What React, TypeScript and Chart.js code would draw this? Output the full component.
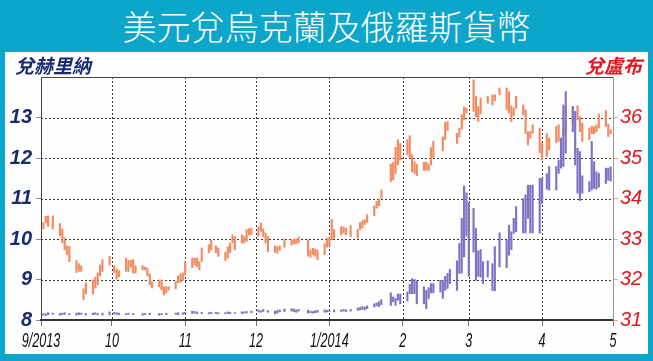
import React, { useEffect, useRef } from "react";
import { Chart, registerables } from "chart.js";
Chart.register(...registerables);

const TITLE = "美元兌烏克蘭及俄羅斯貨幣";
const LEFT_TITLE = "兌赫里納";
const RIGHT_TITLE = "兌盧布";

// x axis: days since 1 Sep 2013
const monthDays = [0, 30, 61, 91, 122, 153, 181, 212, 242];
const monthLabels = ["9/2013", "10", "11", "12", "1/2014", "2", "3", "4", "5"];
const uahTicks = [8, 9, 10, 11, 12, 13];
const rubTicks = [31, 32, 33, 34, 35, 36];

// [day, low, high] – rubles per dollar (right axis)
const rubleBars: number[][] = [
  [1, 33.25, 33.4], [2, 33.4, 33.56], [3, 33.31, 33.57], [5, 33.25, 33.57], [8, 33.08, 33.38],
  [9, 32.91, 33.25], [10, 32.73, 33.03], [11, 32.61, 32.83], [12, 32.44, 32.81], [15, 32.17, 32.47],
  [16, 32.2, 32.39], [17, 32.2, 32.34], [18, 31.5, 31.77], [19, 31.64, 31.92], [22, 31.64, 31.99],
  [23, 31.79, 32.06], [24, 31.87, 32.16], [25, 32.09, 32.36], [26, 32.2, 32.49], [29, 32.36, 32.57],
  [31, 32.17, 32.34], [32, 32.01, 32.26], [33, 32.07, 32.22], [36, 32.2, 32.53], [37, 32.2, 32.47],
  [38, 32.3, 32.47], [39, 32.16, 32.49], [40, 32.16, 32.34], [43, 32.24, 32.34], [44, 32.24, 32.31],
  [45, 32.09, 32.28], [46, 31.87, 32.14], [47, 31.79, 31.95], [50, 31.82, 31.99], [51, 31.74, 31.99],
  [52, 31.62, 31.82], [53, 31.67, 31.82], [54, 31.74, 31.82], [57, 31.77, 31.95], [58, 31.92, 32.09],
  [59, 31.93, 32.14], [60, 31.99, 32.16], [61, 32.11, 32.44], [64, 32.29, 32.53], [65, 32.36, 32.53],
  [66, 32.32, 32.53], [67, 32.24, 32.44], [68, 32.44, 32.78], [71, 32.66, 32.86], [72, 32.73, 32.98],
  [74, 32.66, 32.83], [75, 32.57, 32.78], [78, 32.47, 32.67], [79, 32.53, 32.81], [80, 32.66, 32.9],
  [81, 32.9, 33.1], [82, 32.73, 33.06], [85, 32.9, 33.1], [86, 32.9, 33.06], [87, 32.94, 33.23],
  [88, 33.1, 33.25], [89, 33.1, 33.27], [92, 33.06, 33.3], [93, 33.19, 33.4], [94, 33.06, 33.25],
  [95, 32.9, 33.15], [96, 32.69, 33.06], [99, 32.67, 32.83], [100, 32.65, 32.81], [101, 32.72, 32.83],
  [103, 32.8, 33.0], [106, 32.85, 32.98], [107, 32.88, 33.0], [108, 32.88, 33.0], [109, 32.91, 33.05],
  [113, 32.58, 32.98], [114, 32.55, 32.73], [115, 32.61, 32.77], [116, 32.57, 32.75], [117, 32.49, 32.73],
  [120, 32.61, 32.88], [121, 32.8, 33.02], [122, 32.85, 33.05], [123, 32.98, 33.48], [124, 33.02, 33.23],
  [127, 33.1, 33.31], [128, 33.15, 33.3], [129, 33.1, 33.27], [131, 33.06, 33.33], [134, 33.02, 33.23],
  [135, 33.23, 33.41], [136, 33.27, 33.46], [137, 33.36, 33.48], [138, 33.41, 33.6], [141, 33.57, 33.82],
  [142, 33.76, 33.93], [143, 33.82, 33.99], [144, 34.01, 34.21], [148, 34.42, 34.85], [149, 34.46, 34.89],
  [150, 34.62, 35.26], [151, 34.83, 35.45], [152, 34.95, 35.36], [155, 35.08, 35.45], [156, 35.0, 35.55],
  [157, 34.66, 35.08], [158, 34.62, 34.91], [159, 34.56, 34.85], [162, 34.69, 34.89], [163, 34.7, 34.9],
  [164, 34.69, 34.85], [165, 34.83, 35.26], [166, 35.0, 35.41], [170, 35.18, 35.52], [171, 35.46, 35.88],
  [172, 35.68, 35.9], [176, 35.36, 35.61], [177, 35.52, 35.74], [178, 35.71, 36.07], [179, 35.94, 36.26],
  [180, 36.11, 36.23], [183, 36.15, 36.93], [184, 36.02, 36.52], [185, 35.9, 36.27], [186, 36.09, 36.48],
  [189, 36.35, 36.52], [191, 36.31, 36.56], [192, 36.41, 36.56], [194, 36.56, 36.73], [197, 36.19, 36.73],
  [198, 36.11, 36.64], [199, 35.9, 36.29], [200, 36.04, 36.23], [201, 36.23, 36.52], [204, 36.07, 36.31],
  [205, 35.6, 36.19], [206, 35.32, 35.65], [207, 35.49, 35.65], [208, 35.61, 35.82], [211, 35.13, 35.74],
  [212, 34.95, 35.36], [214, 35.03, 35.6], [215, 35.2, 35.49], [218, 35.38, 35.78], [219, 35.41, 35.82],
  [221, 35.55, 35.74], [222, 35.65, 36.27], [225, 35.9, 36.27], [227, 35.94, 36.29], [228, 35.65, 36.02],
  [229, 35.41, 35.86], [232, 35.45, 35.74], [233, 35.6, 35.78], [234, 35.6, 35.78], [235, 35.65, 35.82],
  [236, 35.74, 36.09], [239, 35.78, 36.17], [240, 35.53, 35.84], [241, 35.6, 35.7],
];

// [day, low, high] – hryvnia per dollar (left axis)
const hryvniaBars: number[][] = [
  [1, 8.12, 8.16], [2, 8.11, 8.15], [3, 8.13, 8.18], [5, 8.14, 8.17], [8, 8.12, 8.16],
  [9, 8.13, 8.17], [10, 8.14, 8.18], [12, 8.13, 8.16], [15, 8.12, 8.17], [16, 8.13, 8.18],
  [17, 8.14, 8.17], [19, 8.12, 8.16], [22, 8.13, 8.17], [23, 8.14, 8.18], [24, 8.13, 8.16],
  [26, 8.12, 8.17], [29, 8.13, 8.2], [31, 8.15, 8.19], [32, 8.14, 8.18], [33, 8.13, 8.17],
  [36, 8.13, 8.16], [37, 8.14, 8.17], [39, 8.13, 8.16], [43, 8.12, 8.16], [44, 8.13, 8.16],
  [46, 8.13, 8.17], [50, 8.12, 8.16], [51, 8.13, 8.16], [53, 8.13, 8.17], [57, 8.14, 8.17],
  [58, 8.13, 8.18], [60, 8.14, 8.18], [61, 8.15, 8.19], [64, 8.16, 8.22], [65, 8.17, 8.21],
  [66, 8.16, 8.2], [68, 8.16, 8.19], [71, 8.15, 8.18], [72, 8.16, 8.19], [74, 8.16, 8.19],
  [75, 8.15, 8.18], [78, 8.15, 8.18], [79, 8.16, 8.2], [80, 8.16, 8.19], [82, 8.16, 8.18],
  [85, 8.16, 8.2], [86, 8.17, 8.2], [87, 8.17, 8.21], [89, 8.18, 8.22], [92, 8.2, 8.25],
  [93, 8.19, 8.23], [94, 8.21, 8.26], [96, 8.19, 8.23], [99, 8.15, 8.22], [100, 8.17, 8.24],
  [101, 8.2, 8.25], [103, 8.21, 8.27], [106, 8.22, 8.28], [107, 8.21, 8.27], [108, 8.19, 8.25],
  [109, 8.22, 8.26], [113, 8.17, 8.24], [114, 8.18, 8.22], [115, 8.17, 8.21], [116, 8.18, 8.23],
  [117, 8.19, 8.24], [120, 8.19, 8.25], [121, 8.2, 8.24], [122, 8.21, 8.25], [124, 8.2, 8.25],
  [127, 8.21, 8.25], [128, 8.22, 8.26], [129, 8.21, 8.25], [131, 8.22, 8.26], [134, 8.24, 8.3],
  [135, 8.25, 8.31], [136, 8.26, 8.33], [137, 8.25, 8.32], [138, 8.28, 8.35], [141, 8.32, 8.4],
  [142, 8.35, 8.42], [143, 8.33, 8.45], [144, 8.38, 8.5], [148, 8.36, 8.67], [149, 8.45, 8.57],
  [150, 8.36, 8.53], [151, 8.49, 8.64], [152, 8.4, 8.64], [155, 8.47, 8.69], [156, 8.65, 8.88],
  [157, 8.65, 9.02], [158, 8.65, 9.0], [159, 8.4, 8.98], [162, 8.4, 8.82], [163, 8.28, 8.73],
  [164, 8.53, 8.8], [165, 8.67, 8.9], [166, 8.67, 8.9], [169, 8.69, 8.98], [170, 8.53, 8.98],
  [171, 8.73, 9.08], [172, 8.78, 9.15], [173, 8.9, 9.25], [176, 8.73, 9.46], [177, 9.15, 9.89],
  [178, 9.16, 10.51], [179, 9.56, 11.31], [180, 10.07, 11.14], [181, 9.08, 10.9], [183, 9.68, 10.76],
  [184, 8.98, 10.26], [185, 9.08, 9.71], [186, 9.06, 9.74], [187, 8.9, 9.44], [189, 9.06, 9.46],
  [191, 8.73, 9.39], [192, 8.72, 9.81], [194, 9.31, 10.15], [197, 9.29, 9.97], [198, 9.6, 10.34],
  [199, 9.74, 10.18], [200, 10.14, 10.51], [201, 10.18, 10.8], [204, 10.15, 11.0], [205, 10.15, 11.09],
  [206, 10.51, 11.33], [207, 10.15, 11.33], [208, 10.15, 11.33], [211, 10.14, 11.5], [212, 10.88, 11.5],
  [214, 11.23, 11.61], [215, 11.21, 11.79], [218, 11.21, 11.79], [219, 11.62, 11.95], [220, 11.75, 12.49],
  [221, 11.79, 13.31], [222, 12.12, 13.64], [225, 12.65, 13.27], [226, 11.83, 13.15], [227, 11.13, 12.24],
  [228, 10.95, 12.16], [229, 11.13, 11.56], [232, 11.17, 11.42], [233, 11.21, 12.41], [234, 11.25, 11.91],
  [235, 11.23, 11.66], [236, 11.28, 11.62], [239, 11.37, 11.75], [240, 11.45, 11.75], [241, 11.43, 11.78],
];

const TEAL = "#0ba6c9";
const NAVY = "#1a2b6d";
const RED = "#e3161d";
const ORANGE = "#f28b62";
const PURPLE = "#7f73c4";
const GRID = "#3a3a3a";

const gridPlugin = {
  id: "dottedGrid",
  beforeDatasetsDraw(chart: any) {
    const { ctx, chartArea: a, scales } = chart;
    ctx.save();
    ctx.strokeStyle = GRID;
    ctx.lineWidth = 1;
    ctx.setLineDash([2, 2]);
    monthDays.slice(1, -1).forEach((d) => {
      const x = Math.round(scales.x.getPixelForValue(d)) + 0.5;
      ctx.beginPath();
      ctx.moveTo(x, a.top);
      ctx.lineTo(x, a.bottom);
      ctx.stroke();
    });
    uahTicks.slice(1).forEach((v) => {
      const y = Math.round(scales.y.getPixelForValue(v)) + 0.5;
      ctx.beginPath();
      ctx.moveTo(a.left, y);
      ctx.lineTo(a.right, y);
      ctx.stroke();
    });
    ctx.restore();
  },
  afterDraw(chart: any) {
    const { ctx, chartArea: a, scales } = chart;
    ctx.save();
    // top frame line
    ctx.strokeStyle = "#444";
    ctx.lineWidth = 1;
    ctx.beginPath();
    ctx.moveTo(a.left, a.top + 0.5);
    ctx.lineTo(a.right, a.top + 0.5);
    ctx.stroke();
    // condensed italic month labels
    ctx.fillStyle = "#111";
    ctx.font = 'italic 20px "Liberation Sans", Arial, sans-serif';
    ctx.textAlign = "center";
    ctx.textBaseline = "alphabetic";
    monthDays.forEach((d, i) => {
      const x = scales.x.getPixelForValue(d);
      ctx.save();
      ctx.translate(x, a.bottom + 27);
      ctx.scale(0.63, 1);
      ctx.fillText(monthLabels[i], 0, 0);
      ctx.restore();
    });
    ctx.restore();
  },
};

export default function App() {
  const ref = useRef<HTMLCanvasElement | null>(null);

  useEffect(() => {
    document.body.style.margin = "0";
    const canvas = ref.current;
    if (!canvas) return;
    const chart = new Chart(canvas, {
      type: "bar",
      data: {
        datasets: [
          {
            label: "UAH",
            data: hryvniaBars.map((b) => ({ x: b[0], y: [b[1], b[2]] })) as any,
            backgroundColor: PURPLE,
            borderWidth: 0,
            barThickness: 1.5,
            grouped: false,
            yAxisID: "y",
          },
          {
            label: "RUB",
            data: rubleBars.map((b) => ({ x: b[0], y: [b[1], b[2]] })) as any,
            backgroundColor: ORANGE,
            borderWidth: 0,
            barThickness: 1.5,
            grouped: false,
            yAxisID: "y1",
          },
        ],
      },
      options: {
        animation: false,
        responsive: false,
        layout: { padding: { top: 25, left: 0, right: 0, bottom: 0 } },
        plugins: { legend: { display: false }, tooltip: { enabled: false }, title: { display: false } },
        scales: {
          x: {
            type: "linear",
            min: monthDays[0],
            max: monthDays[monthDays.length - 1],
            offset: false,
            afterBuildTicks: (s: any) => {
              s.ticks = monthDays.map((v) => ({ value: v }));
            },
            afterFit: (s: any) => {
              s.height = 34;
            },
            ticks: {
              autoSkip: false,
              maxRotation: 0,
              padding: 2,
              color: "rgba(0,0,0,0)",
              font: { size: 18 },
              callback: (_v: any, i: number) => monthLabels[i],
            },
            grid: {
              offset: false,
              drawOnChartArea: false,
              tickColor: "#777",
              tickLength: 6,
            },
            border: { color: "#333", width: 2 },
          } as any,
          y: {
            type: "linear",
            position: "left",
            min: 8,
            max: 14,
            afterBuildTicks: (s: any) => {
              s.ticks = uahTicks.map((v) => ({ value: v }));
            },
            afterFit: (s: any) => {
              s.width = 36;
            },
            ticks: {
              padding: 4,
              color: NAVY,
              font: { family: '"Liberation Sans", Arial, sans-serif', size: 20, style: "italic", weight: "bold" },
            },
            grid: { drawOnChartArea: false, tickColor: "#8a80c8", tickLength: 5 },
            border: { color: "#444", width: 1 },
          } as any,
          y1: {
            type: "linear",
            position: "right",
            min: 31,
            max: 37,
            afterBuildTicks: (s: any) => {
              s.ticks = rubTicks.map((v) => ({ value: v }));
            },
            afterFit: (s: any) => {
              s.width = 35;
            },
            ticks: {
              padding: 2,
              color: RED,
              font: { family: '"Liberation Sans", Arial, sans-serif', size: 20, style: "italic" },
            },
            grid: { drawOnChartArea: false, tickColor: "#f0a080", tickLength: 5 },
            border: { color: "#999", width: 1 },
          } as any,
        },
      },
      plugins: [gridPlugin],
    });
    return () => chart.destroy();
  }, []);

  return (
    <div
      style={{
        position: "relative",
        width: 653,
        height: 361,
        background: TEAL,
        overflow: "hidden",
      }}
    >
      <div
        style={{
          position: "absolute",
          left: 0,
          top: 8,
          width: 653,
          textAlign: "center",
          color: "#fff",
          fontSize: 34,
          lineHeight: "36px",
          fontFamily: '"Noto Sans CJK TC", "Noto Sans CJK SC", sans-serif',
          fontWeight: 300,
        }}
      >
        {TITLE}
      </div>
      <div
        style={{
          position: "absolute",
          left: 5,
          top: 52,
          width: 643,
          height: 302,
          background: "#fdfefd",
        }}
      >
        <canvas ref={ref} width={643} height={302} style={{ display: "block" }} />
        <div
          style={{
            position: "absolute",
            left: 10,
            top: 2,
            color: NAVY,
            fontSize: 19,
            lineHeight: "22px",
            fontStyle: "italic",
            fontWeight: 700,
            fontFamily: '"Noto Sans CJK TC", sans-serif',
          }}
        >
          {LEFT_TITLE}
        </div>
        <div
          style={{
            position: "absolute",
            right: 6,
            top: 2,
            color: RED,
            fontSize: 19,
            lineHeight: "22px",
            fontStyle: "italic",
            fontWeight: 700,
            fontFamily: '"Noto Sans CJK TC", sans-serif',
          }}
        >
          {RIGHT_TITLE}
        </div>
      </div>
    </div>
  );
}
